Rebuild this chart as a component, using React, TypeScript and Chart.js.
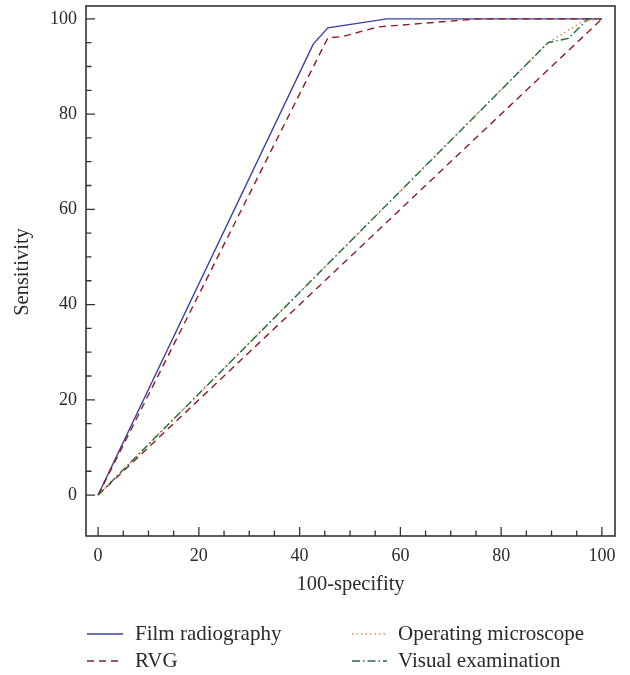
import React, { useEffect, useRef } from "react";
import { Chart, registerables } from "chart.js";

Chart.register(...registerables);

const filmX = [0, 42.7, 45.6, 57.3, 100];
const filmY = [0, 94.7, 98.1, 100, 100];
const rvgX = [0, 45.6, 48.6, 55.5, 75.5, 100];
const rvgY = [0, 96.0, 96.3, 98.3, 100, 100];
const microX = [0, 89.3, 96.3, 100];
const microY = [0, 95.0, 99.5, 100];
const visualX = [0, 89.3, 93.3, 97.3, 100];
const visualY = [0, 95.0, 95.9, 100, 100];
const diagX = [0, 100];
const diagY = [0, 100];
const tickValues = [0, 20, 40, 60, 80, 100];
const minorValues = [5, 10, 15, 25, 30, 35, 45, 50, 55, 65, 70, 75, 85, 90, 95];
const legendLabels = ["Film radiography", "RVG", "Operating microscope", "Visual examination"];
const xTitle = "100-specifity";
const yTitle = "Sensitivity";

const FONT = "'Liberation Serif', 'Times New Roman', serif";
const TEXT = "#2a2a2a";
const BLUE = "#3d3fa3";
const RED = "#8c1d22";
const ORANGE = "#f08752";
const GREEN = "#1f6e3d";

const pts = (xs: number[], ys: number[]) => xs.map((x, i) => ({ x, y: ys[i] }));

const legendItems = [
  { label: legendLabels[0], color: BLUE, dash: [] as number[], col: 0, row: 0 },
  { label: legendLabels[1], color: RED, dash: [7, 5], col: 0, row: 1 },
  { label: legendLabels[2], color: ORANGE, dash: [1.5, 3], col: 1, row: 0 },
  { label: legendLabels[3], color: GREEN, dash: [8, 3, 1.5, 3], col: 1, row: 1 },
];

const framePlugin = {
  id: "framePlugin",
  afterDraw(chart: any) {
    const ctx = chart.ctx;
    const { left, right, top, bottom } = chart.chartArea;
    const xs = chart.scales.x;
    const ys = chart.scales.y;
    ctx.save();
    ctx.strokeStyle = "#333";
    ctx.lineWidth = 1.6;
    ctx.setLineDash([]);
    ctx.strokeRect(left, top, right - left, bottom - top);
    ctx.lineWidth = 1.3;
    ctx.beginPath();
    tickValues.forEach((v) => {
      const px = xs.getPixelForValue(v);
      ctx.moveTo(px, bottom);
      ctx.lineTo(px, bottom - 9);
      const py = ys.getPixelForValue(v);
      ctx.moveTo(left, py);
      ctx.lineTo(left + 9, py);
    });
    minorValues.forEach((v) => {
      const px = xs.getPixelForValue(v);
      ctx.moveTo(px, bottom);
      ctx.lineTo(px, bottom - 5.5);
      const py = ys.getPixelForValue(v);
      ctx.moveTo(left, py);
      ctx.lineTo(left + 5.5, py);
    });
    ctx.stroke();

    // axis titles
    ctx.fillStyle = TEXT;
    ctx.font = `20.5px ${FONT}`;
    ctx.textAlign = "center";
    ctx.textBaseline = "middle";
    ctx.fillText(xTitle, (left + right) / 2, 585);
    ctx.save();
    ctx.translate(23, 272);
    ctx.rotate(-Math.PI / 2);
    ctx.fillText(yTitle, 0, 0);
    ctx.restore();

    // legend
    const colX = [87, 352];
    const colW = [36, 35];
    const textX = [135, 398];
    const rowY = [634, 661];
    ctx.textAlign = "left";
    ctx.font = `21px ${FONT}`;
    legendItems.forEach((it) => {
      const y = rowY[it.row];
      ctx.strokeStyle = it.color;
      ctx.lineWidth = 1.4;
      ctx.setLineDash(it.dash);
      ctx.beginPath();
      ctx.moveTo(colX[it.col], y);
      ctx.lineTo(colX[it.col] + colW[it.col], y);
      ctx.stroke();
      ctx.setLineDash([]);
      ctx.fillStyle = TEXT;
      ctx.fillText(it.label, textX[it.col], y);
    });
    ctx.restore();
  },
};

export default function App() {
  const ref = useRef<HTMLCanvasElement | null>(null);
  useEffect(() => {
    if (!ref.current) return;
    const common = { showLine: true, pointRadius: 0, pointHoverRadius: 0, fill: false, borderWidth: 1.4, tension: 0 };
    const chart = new Chart(ref.current, {
      type: "scatter",
      data: {
        datasets: [
          { ...common, label: legendLabels[0], data: pts(filmX, filmY), borderColor: BLUE, order: 5 },
          { ...common, label: "diagonal", data: pts(diagX, diagY), borderColor: RED, borderDash: [7, 5], order: 4 },
          { ...common, label: legendLabels[1], data: pts(rvgX, rvgY), borderColor: RED, borderDash: [7, 5], order: 3 },
          { ...common, label: legendLabels[2], data: pts(microX, microY), borderColor: ORANGE, borderDash: [1.5, 3], order: 2 },
          { ...common, label: legendLabels[3], data: pts(visualX, visualY), borderColor: GREEN, borderDash: [8, 3, 1.5, 3], order: 1 },
        ] as any,
      },
      options: {
        animation: false,
        responsive: false,
        maintainAspectRatio: false,
        layout: { padding: { top: 6, right: 15, left: 0, bottom: 0 } },
        plugins: { legend: { display: false }, tooltip: { enabled: false } },
        scales: {
          x: {
            type: "linear",
            min: -2.4,
            max: 102.6,
            grid: { display: false, drawTicks: false },
            border: { display: false },
            afterBuildTicks: (s: any) => {
              s.ticks = tickValues.map((v) => ({ value: v }));
            },
            afterFit: (s: any) => {
              s.height = 139;
              s.paddingLeft = 0;
              s.paddingRight = 0;
            },
            ticks: { padding: 9, color: TEXT, font: { family: FONT, size: 18 }, maxRotation: 0, autoSkip: false },
          },
          y: {
            type: "linear",
            min: -8.6,
            max: 102.7,
            grid: { display: false, drawTicks: false },
            border: { display: false },
            afterBuildTicks: (s: any) => {
              s.ticks = tickValues.map((v) => ({ value: v }));
            },
            afterFit: (s: any) => {
              s.width = 86;
              s.paddingTop = 0;
              s.paddingBottom = 0;
            },
            ticks: { padding: 9, color: TEXT, font: { family: FONT, size: 18 }, autoSkip: false },
          },
        },
      } as any,
      plugins: [framePlugin],
    });
    return () => chart.destroy();
  }, []);
  return (
    <div style={{ position: "absolute", left: 0, top: 0, width: 630, height: 675, background: "#fff" }}>
      <canvas ref={ref} width={630} height={675} style={{ display: "block" }} />
    </div>
  );
}
